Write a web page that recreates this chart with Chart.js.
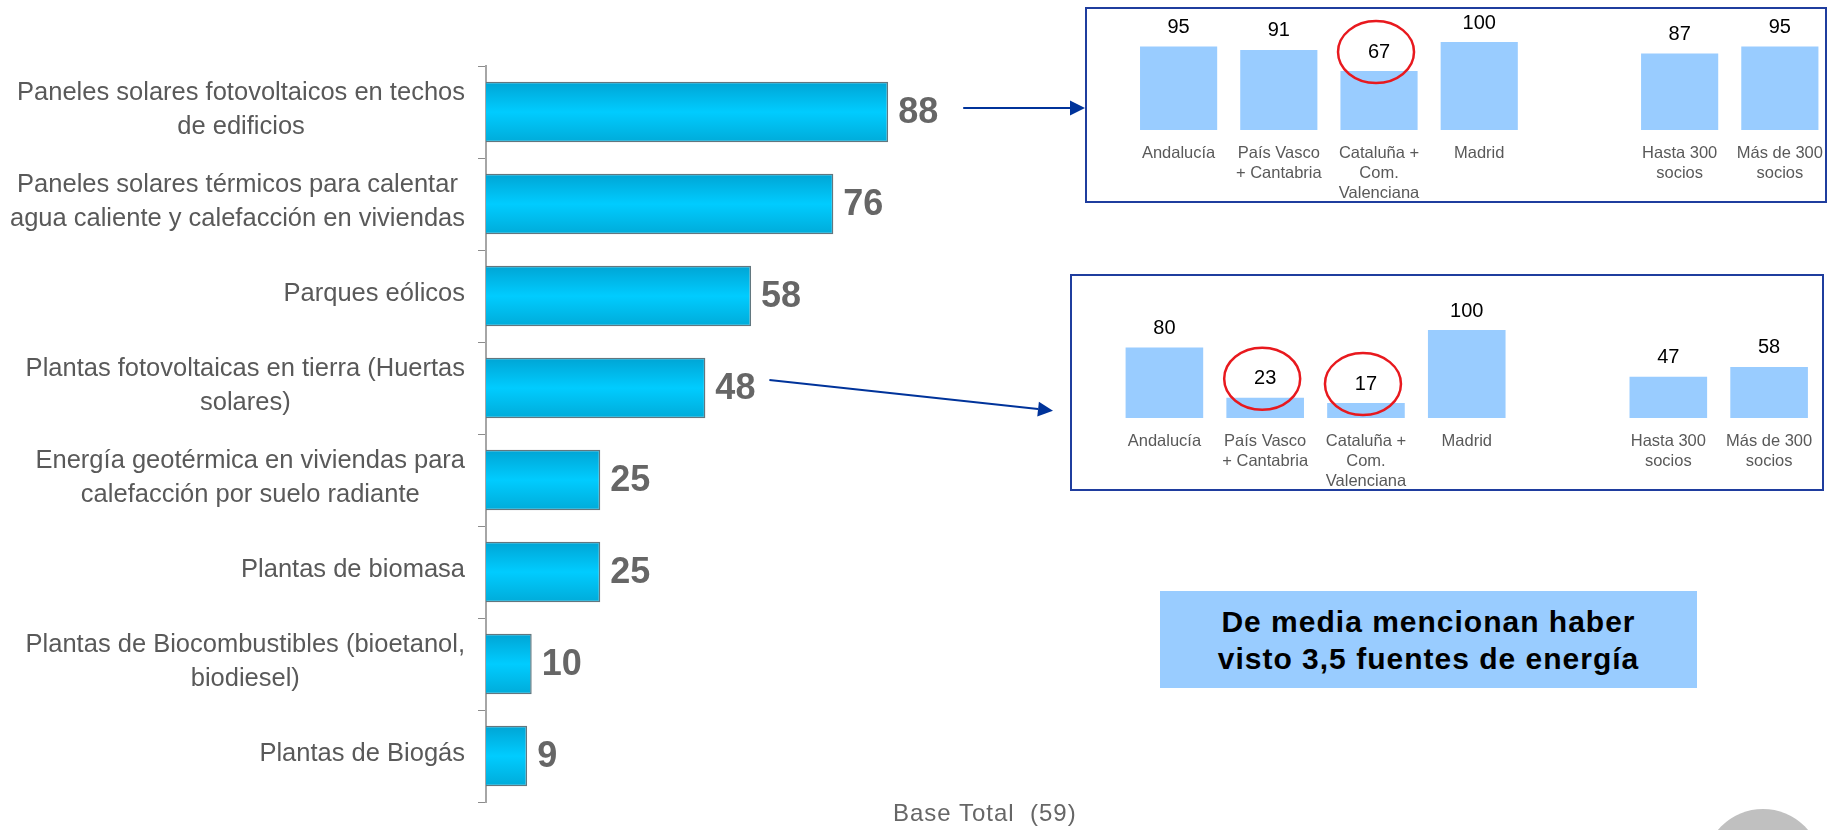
<!DOCTYPE html>
<html lang="es">
<head>
    <meta charset="UTF-8">
    <title>Fuentes de energía vistas</title>
    <script src="https://cdn.jsdelivr.net/npm/chart.js@4.4.0/dist/chart.umd.min.js"></script>
    <style>
        body {
            margin: 0;
            width: 1836px;
            height: 830px;
            overflow: hidden;
            background: #fff;
            position: relative;
            font-family: "Liberation Sans", Arial, sans-serif;
        }

        .abs { position: absolute; }

        #mainWrap { left: 0; top: 0; width: 1836px; height: 830px; }

        .regionBox { border: 2px solid #1f3d9e; box-sizing: border-box; }
        #box1 { left: 1085px; top: 7px; width: 742px; height: 196px; }
        #box2 { left: 1070px; top: 274px; width: 754px; height: 217px; }

        #chart1Wrap { left: 1085px; top: 7px; width: 751px; height: 196px; }
        #chart2Wrap { left: 1070px; top: 274px; width: 766px; height: 217px; }

        #note {
            left: 1160px; top: 591px; width: 537px; height: 97px;
            background: #99ccff;
            display: flex; align-items: center; justify-content: center;
            text-align: center; font-weight: bold; font-size: 30px; line-height: 37px;
            letter-spacing: 1px; color: #000;
        }

        #base { left: 893px; top: 801px; font-size: 24px; line-height: 24px; letter-spacing: 1px; color: #666; white-space: pre; }

        #dot { left: 1704px; top: 809px; width: 118px; height: 118px; border-radius: 50%; background: #c0c0c0; }
    </style>
</head>
<body>
    <div class="abs" id="mainWrap"><canvas id="mainChart"></canvas></div>

    <div class="abs regionBox" id="box1"></div>
    <div class="abs regionBox" id="box2"></div>
    <div class="abs" id="chart1Wrap"><canvas id="chart1"></canvas></div>
    <div class="abs" id="chart2Wrap"><canvas id="chart2"></canvas></div>

    <div class="abs" id="note">De media mencionan haber<br>visto 3,5 fuentes de energía</div>
    <div class="abs" id="base">Base Total  (59)</div>
    <div class="abs" id="dot"></div>

    <script>
        // Fuentes de energía vistas (%)
        const categories = [
            ['Paneles solares fotovoltaicos en techos', 'de edificios'],
            ['Paneles solares térmicos para calentar', 'agua caliente y calefacción en viviendas'],
            'Parques eólicos',
            ['Plantas fotovoltaicas en tierra (Huertas', 'solares)'],
            ['Energía geotérmica en viviendas para', 'calefacción por suelo radiante'],
            'Plantas de biomasa',
            ['Plantas de Biocombustibles (bioetanol,', 'biodiesel)'],
            'Plantas de Biogás'
        ];
        const percentages = [88, 76, 58, 48, 25, 25, 10, 9];

        // Desglose por región / tamaño (hueco vacío entre Madrid y socios)
        const regions = ['Andalucía', ['País Vasco', '+ Cantabria'], ['Cataluña +', 'Com.', 'Valenciana'], 'Madrid', '',
            ['Hasta 300', 'socios'], ['Más de 300', 'socios']];
        const rooftopPv = [95, 91, 67, 100, null, 87, 95];
        const groundPv = [80, 23, 17, 100, null, 47, 58];
        const rooftopCircled = [2];
        const groundCircled = [1, 2];

        const FONT = '"Liberation Sans", Arial, sans-serif';
        Chart.defaults.font.family = FONT;

        function barGradient(context) {
            const chart = context.chart;
            const y = chart.scales.y;
            if (!y || context.dataIndex === undefined) return '#00ccff';
            const center = y.getPixelForValue(context.dataIndex);
            const half = y.height / categories.length * 0.66 / 2;
            if (!Number.isFinite(center) || !Number.isFinite(half) || half <= 0) return '#00ccff';
            const g = chart.ctx.createLinearGradient(0, center - half, 0, center + half);
            g.addColorStop(0, '#00a4d4');
            g.addColorStop(0.5, '#00ccff');
            g.addColorStop(1, '#00abd9');
            return g;
        }

        function drawArrow(ctx, x1, y1, x2, y2) {
            const ang = Math.atan2(y2 - y1, x2 - x1);
            const len = 15, half = 7.5;
            const bx = x2 - len * Math.cos(ang), by = y2 - len * Math.sin(ang);
            ctx.beginPath();
            ctx.moveTo(x1, y1);
            ctx.lineTo(bx, by);
            ctx.stroke();
            ctx.beginPath();
            ctx.moveTo(x2, y2);
            ctx.lineTo(bx + half * Math.sin(ang), by - half * Math.cos(ang));
            ctx.lineTo(bx - half * Math.sin(ang), by + half * Math.cos(ang));
            ctx.closePath();
            ctx.fill();
        }

        const VALUE_GAP = 10;

        const mainLabels = {
            id: 'mainLabels',
            afterDatasetsDraw(chart) {
                const ctx = chart.ctx;
                const meta = chart.getDatasetMeta(0);
                ctx.save();
                ctx.font = 'bold 36px ' + FONT;
                ctx.fillStyle = '#666666';
                ctx.textAlign = 'left';
                ctx.textBaseline = 'middle';
                meta.data.forEach((bar, i) => ctx.fillText(percentages[i], bar.x + VALUE_GAP, bar.y + 1));
                ctx.restore();
            },
            afterDraw(chart) {
                const ctx = chart.ctx;
                const y = chart.scales.y;
                // category labels: block right aligned, lines centred
                ctx.save();
                ctx.font = '25.5px ' + FONT;
                ctx.fillStyle = '#595959';
                ctx.textAlign = 'center';
                ctx.textBaseline = 'middle';
                const lineHeight = 34;
                const rightEdge = y.right - 21;
                categories.forEach((label, i) => {
                    const lines = Array.isArray(label) ? label : [label];
                    const blockWidth = Math.max(...lines.map(l => ctx.measureText(l).width));
                    const cx = rightEdge - blockWidth / 2;
                    const cy = y.getPixelForTick(i) - 2;
                    lines.forEach((line, k) => ctx.fillText(line, cx, cy + (k - (lines.length - 1) / 2) * lineHeight));
                });

                // arrows to the breakdown boxes
                const meta = chart.getDatasetMeta(0);
                ctx.font = 'bold 36px ' + FONT;
                ctx.strokeStyle = '#00339a';
                ctx.fillStyle = '#00339a';
                ctx.lineWidth = 2;
                const box1 = document.getElementById('box1');
                const box2 = document.getElementById('box2');
                const b0 = meta.data[0];
                const s0 = b0.x + VALUE_GAP + ctx.measureText(String(percentages[0])).width + 25;
                drawArrow(ctx, s0, b0.y - 4, box1.offsetLeft, b0.y - 4);
                const b3 = meta.data[3];
                const s3 = b3.x + VALUE_GAP + ctx.measureText(String(percentages[3])).width + 14;
                drawArrow(ctx, s3, b3.y - 8, box2.offsetLeft - 17, box2.offsetTop + box2.offsetHeight * 0.63);
                ctx.restore();
            }
        };

        new Chart(document.getElementById('mainChart'), {
            type: 'bar',
            data: {
                labels: categories,
                datasets: [{
                    data: percentages,
                    backgroundColor: barGradient,
                    borderColor: '#62777f',
                    borderWidth: 1.5,
                    barPercentage: 0.66,
                    categoryPercentage: 1
                }]
            },
            options: {
                indexAxis: 'y',
                responsive: true,
                maintainAspectRatio: false,
                animation: false,
                layout: { padding: { top: 66, right: 893, bottom: 28, left: 0 } },
                plugins: { legend: { display: false }, tooltip: { enabled: false } },
                scales: {
                    x: { display: false, min: 0, max: 100 },
                    y: {
                        grid: { drawOnChartArea: false, offset: true, tickLength: 8, color: '#8c8c8c', lineWidth: 1 },
                        border: { color: '#a6a6a6', width: 2 },
                        ticks: { display: false },
                        afterFit: s => { s.width = 486; }
                    }
                }
            },
            plugins: [mainLabels]
        });

        function smallLabels(values, circled) {
            return {
                id: 'smallLabels',
                afterDatasetsDraw(chart) {
                    const ctx = chart.ctx;
                    const meta = chart.getDatasetMeta(0);
                    ctx.save();
                    ctx.font = '20px ' + FONT;
                    ctx.fillStyle = '#000';
                    ctx.textAlign = 'center';
                    ctx.textBaseline = 'middle';
                    meta.data.forEach((bar, i) => {
                        if (values[i] == null) return;
                        ctx.fillText(values[i], bar.x, bar.y - 19);
                    });
                    ctx.strokeStyle = '#e8191e';
                    ctx.lineWidth = 2.5;
                    circled.forEach(i => {
                        const bar = meta.data[i];
                        ctx.beginPath();
                        ctx.ellipse(bar.x - 3, bar.y - 19, 38, 31, 0, 0, Math.PI * 2);
                        ctx.stroke();
                    });
                    ctx.restore();
                }
            };
        }

        function regionChart(canvasId, values, circled, padding) {
            return new Chart(document.getElementById(canvasId), {
                type: 'bar',
                data: {
                    labels: regions,
                    datasets: [{
                        data: values,
                        backgroundColor: '#99ccff',
                        barPercentage: 0.77,
                        categoryPercentage: 1
                    }]
                },
                options: {
                    responsive: true,
                    maintainAspectRatio: false,
                    animation: false,
                    layout: { padding: padding },
                    plugins: { legend: { display: false }, tooltip: { enabled: false } },
                    scales: {
                        x: {
                            grid: { display: false, drawTicks: false },
                            border: { display: false },
                            ticks: {
                                color: '#595959',
                                font: { size: 16.5, lineHeight: 1.22 },
                                padding: 13,
                                maxRotation: 0,
                                autoSkip: false
                            },
                            afterFit: s => { s.height = 73; }
                        },
                        y: { display: false, min: 0, max: 100 }
                    }
                },
                plugins: [smallLabels(values, circled)]
            });
        }

        regionChart('chart1', rooftopPv, rooftopCircled, { top: 35, right: 0.5, bottom: 0, left: 43.5 });
        regionChart('chart2', groundPv, groundCircled, { top: 56, right: 16.5, bottom: 0, left: 44 });
    </script>
</body>
</html>
